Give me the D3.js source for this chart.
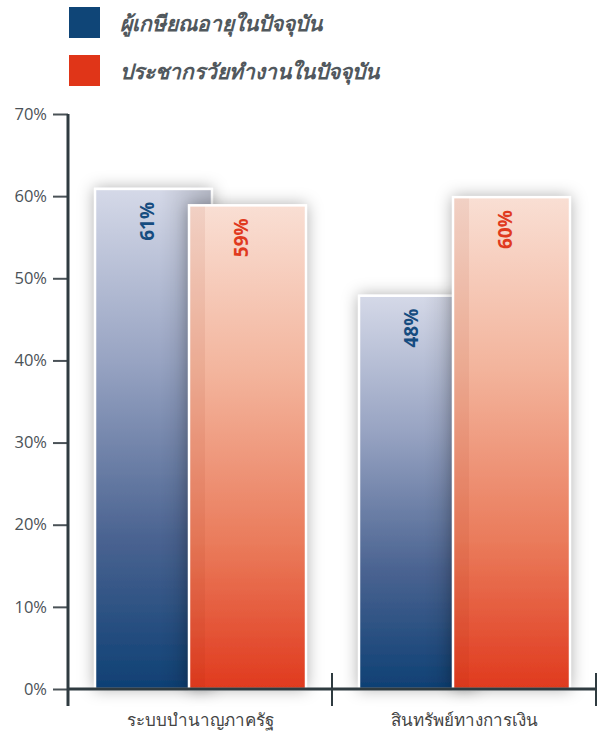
<!DOCTYPE html>
<html>
<head>
<meta charset="utf-8">
<script src="https://cdn.jsdelivr.net/npm/d3@7"></script>
<style>
  body { margin: 0; background: #fff; }
  svg { display: block; }
  .tick text { font-family: 'Open Sans', sans-serif; font-size: 16.5px; fill: #4a5257; }
</style>
</head>
<body>
<div id="chart"></div>
<script>
const categories = ['ระบบบำนาญภาครัฐ', 'สินทรัพย์ทางการเงิน'];
const seriesNames = ['ผู้เกษียณอายุในปัจจุบัน', 'ประชากรวัยทำงานในปัจจุบัน'];
const retirees = [0.61, 0.48];
const workers = [0.59, 0.60];
const yTicks = [0, 0.1, 0.2, 0.3, 0.4, 0.5, 0.6, 0.7];

const seriesColors = ['#0f4577', '#e03518'];
const labelColors = ['#164c80', '#e03a1e'];

const width = 601;
const height = 734;
const axisColor = '#2f3b40';

const svg = d3.select('#chart')
  .append('svg')
  .attr('width', width)
  .attr('height', height);

const defs = svg.append('defs');

// vertical gradients for each series
const gradStops = [
  [['0%', '#d5d9e8'], ['35%', '#97a3c2'], ['70%', '#4a6391'], ['100%', '#0e4074']],
  [['0%', '#f9dfd4'], ['35%', '#f3b49c'], ['70%', '#ea7b5b'], ['100%', '#e03a1e']]
];
gradStops.forEach(function (stops, i) {
  const g = defs.append('linearGradient')
    .attr('id', 'grad' + i)
    .attr('x1', 0).attr('y1', 0).attr('x2', 0).attr('y2', 1);
  stops.forEach(function (s) {
    g.append('stop').attr('offset', s[0]).attr('stop-color', s[1]);
  });
});

// side shading
const shadeRight = defs.append('linearGradient')
  .attr('id', 'shadeRight').attr('x1', 0).attr('x2', 1).attr('y1', 0).attr('y2', 0);
shadeRight.append('stop').attr('offset', '55%').attr('stop-color', '#000').attr('stop-opacity', 0);
shadeRight.append('stop').attr('offset', '100%').attr('stop-color', '#000').attr('stop-opacity', 0.16);

const shadow = defs.append('filter')
  .attr('id', 'shadow')
  .attr('x', '-30%').attr('y', '-30%').attr('width', '160%').attr('height', '160%');
shadow.append('feDropShadow')
  .attr('dx', 0).attr('dy', 0)
  .attr('stdDeviation', 8)
  .attr('flood-color', '#000')
  .attr('flood-opacity', 0.32);

// Legend
const legend = svg.append('g').attr('class', 'legend');
seriesNames.forEach(function (name, i) {
  legend.append('rect')
    .attr('x', 69)
    .attr('y', 7 + i * 48)
    .attr('width', 31)
    .attr('height', 31)
    .attr('fill', seriesColors[i]);
  legend.append('text')
    .attr('x', 120)
    .attr('y', 31 + i * 48)
    .style('font-family', "'Noto Sans', sans-serif")
    .style('font-size', '21px')
    .style('font-weight', 'bold')
    .style('font-style', 'italic')
    .style('fill', '#51585d')
    .text(name);
});

// Scales
const y = d3.scaleLinear().domain([0, 0.7]).range([689, 114]);
const x0 = d3.scaleBand().domain(categories).range([68, 596]);
const x1 = d3.scalePoint().domain(seriesNames).range([26, 120]);
const barWidth = 119;

// Y axis
const yAxis = svg.append('g')
  .attr('transform', 'translate(68,0)')
  .call(d3.axisLeft(y).tickValues(yTicks).tickSize(15).tickPadding(6).tickFormat(d3.format('.0%')));
yAxis.select('.domain').remove();
yAxis.selectAll('.tick line').attr('stroke', '#4a5257').attr('stroke-width', 2);

// Bars
const rows = categories.map(function (c, i) {
  return { category: c, values: [retirees[i], workers[i]] };
});

const groups = svg.append('g').selectAll('g')
  .data(rows)
  .enter()
  .append('g')
  .attr('transform', function (d) { return 'translate(' + x0(d.category) + ',0)'; });

groups.each(function (d) {
  const g = d3.select(this);
  d.values.forEach(function (v, i) {
    const bx = x1(seriesNames[i]);
    const by = y(v);
    const bh = y(0) - y(v);
    g.append('rect')
      .attr('x', bx).attr('y', by)
      .attr('width', barWidth).attr('height', bh)
      .attr('fill', 'url(#grad' + i + ')')
      .attr('filter', 'url(#shadow)');
    if (i === 0) {
      g.append('rect')
        .attr('x', bx).attr('y', by)
        .attr('width', barWidth).attr('height', bh)
        .attr('fill', 'url(#shadeRight)');
    } else {
      g.append('rect')
        .attr('x', bx).attr('y', by)
        .attr('width', 17).attr('height', bh)
        .attr('fill', '#8a1a00')
        .attr('opacity', 0.07);
    }
    g.append('rect')
      .attr('x', bx + 1).attr('y', by + 1)
      .attr('width', barWidth - 2).attr('height', bh - 1)
      .attr('fill', 'none')
      .attr('stroke', '#fff')
      .attr('stroke-width', 2.5);
  });
  d.values.forEach(function (v, i) {
    const cx = x1(seriesNames[i]) + barWidth / 2 - 6;
    const ty = y(v) + 14;
    g.append('text')
      .attr('transform', 'translate(' + cx + ',' + ty + ') rotate(-90)')
      .attr('text-anchor', 'end')
      .attr('dy', '0.36em')
      .style('font-family', "'Open Sans', sans-serif")
      .style('font-size', '19px')
      .style('font-weight', 'bold')
      .style('fill', labelColors[i])
      .text(d3.format('.0%')(v));
  });
});

// Axis lines
svg.append('line')
  .attr('x1', 68).attr('x2', 68)
  .attr('y1', y(0.7)).attr('y2', 706)
  .attr('stroke', axisColor).attr('stroke-width', 3);
svg.append('line')
  .attr('x1', 68).attr('x2', 596)
  .attr('y1', y(0)).attr('y2', y(0))
  .attr('stroke', axisColor).attr('stroke-width', 3);

// category dividers
const dividers = categories.slice(1).map(function (c) { return x0(c); }).concat([x0.range()[1]]);
svg.append('g').selectAll('line')
  .data(dividers)
  .enter()
  .append('line')
  .attr('x1', function (d) { return d; })
  .attr('x2', function (d) { return d; })
  .attr('y1', 673).attr('y2', 706)
  .attr('stroke', axisColor).attr('stroke-width', 2);

// category labels
svg.append('g').selectAll('text')
  .data(categories)
  .enter()
  .append('text')
  .attr('x', function (d) { return x0(d) + x0.bandwidth() / 2; })
  .attr('y', 726)
  .attr('text-anchor', 'middle')
  .style('font-family', "'Noto Sans', sans-serif")
  .style('font-size', '17px')
  .style('fill', '#444')
  .text(function (d) { return d; });
</script>
</body>
</html>
